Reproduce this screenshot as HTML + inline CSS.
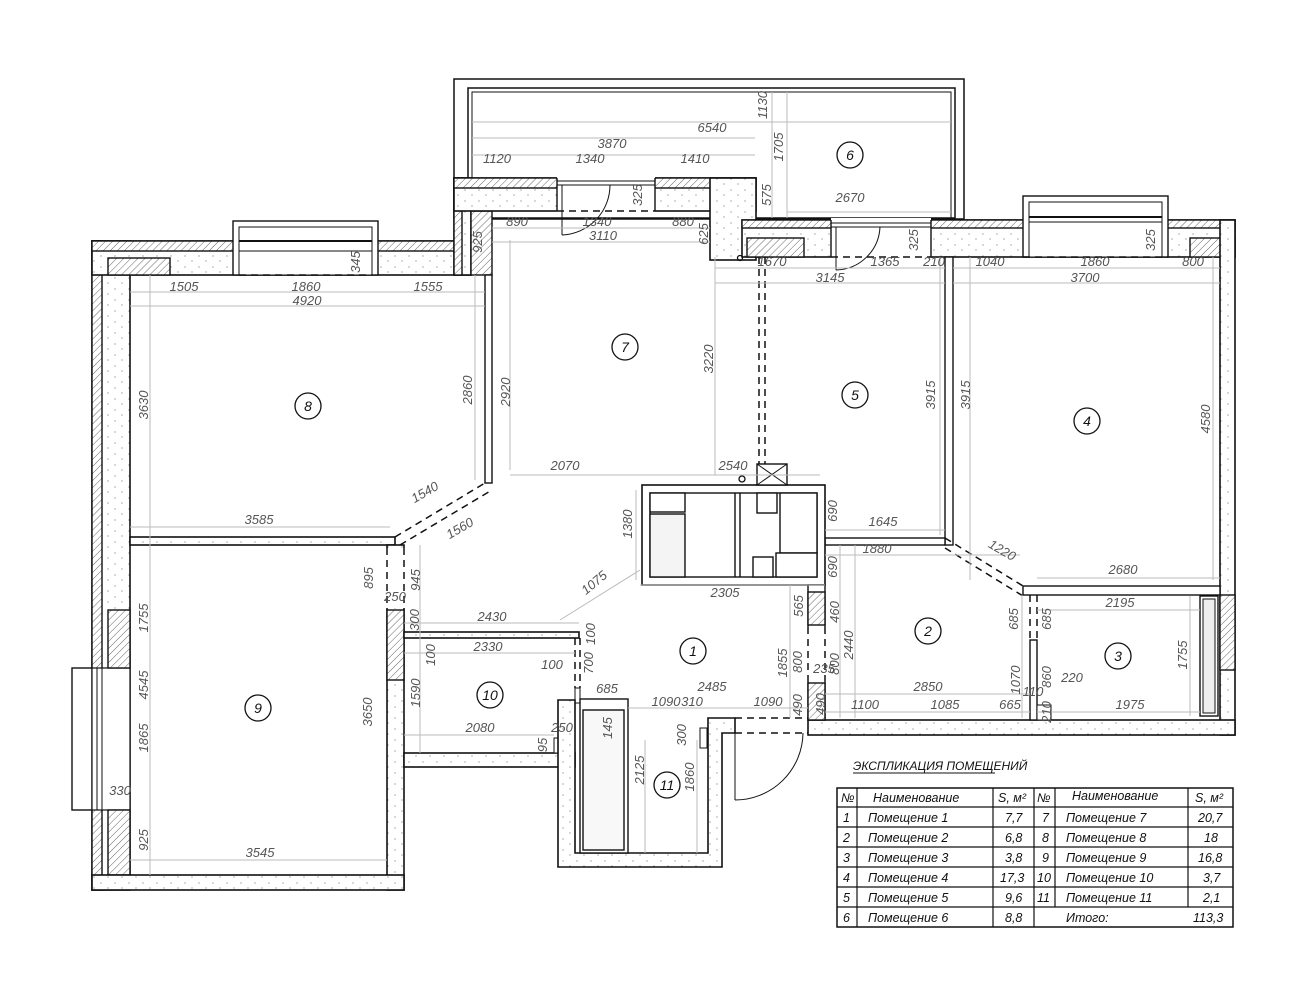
<!DOCTYPE html>
<html><head><meta charset="utf-8"><style>
html,body{margin:0;padding:0;background:#fff}
svg{display:block}
.d{font-family:"Liberation Sans",sans-serif;font-style:italic;font-size:13px;fill:#555}
.t{font-family:"Liberation Sans",sans-serif;font-style:italic;font-size:12.5px;fill:#111}
.n{font-family:"Liberation Sans",sans-serif;font-style:italic;font-size:14px;fill:#111;text-anchor:middle}
.w{fill:url(#dots);stroke:#111;stroke-width:1.6}
.h{fill:url(#hatch);stroke:#111;stroke-width:1.4}
.dim{stroke:#bbb;stroke-width:1;fill:none}
.ds{stroke:#111;stroke-width:1.5;stroke-dasharray:7,5;fill:none}
</style></head><body>
<svg width="1305" height="1000" viewBox="0 0 1305 1000" xmlns="http://www.w3.org/2000/svg">
<defs>
<pattern id="hatch" width="5" height="5" patternUnits="userSpaceOnUse" patternTransform="rotate(45)"><rect width="5" height="5" fill="#fff"/><line x1="0" y1="0" x2="0" y2="5" stroke="#666" stroke-width="1"/></pattern>
<pattern id="dots" width="14" height="11" patternUnits="userSpaceOnUse"><rect width="14" height="11" fill="#fff"/><circle cx="3" cy="3" r="0.6" fill="#777"/><circle cx="10" cy="8" r="0.6" fill="#777"/></pattern>
</defs>

<!-- balcony -->
<rect x="454" y="79" width="510" height="140" fill="none" stroke="#111" stroke-width="1.5"/>
<rect x="468" y="88" width="487" height="130" fill="none" stroke="#111" stroke-width="1.5"/>
<rect x="472" y="92" width="479" height="126" fill="none" stroke="#111" stroke-width="1"/>

<!-- left exterior wall -->
<rect class="w" x="92" y="241" width="38" height="649"/>
<rect class="h" x="92" y="241" width="10" height="649"/>
<rect x="72" y="668" width="20" height="142" fill="#fff" stroke="#111" stroke-width="1.4"/>
<rect x="92" y="668" width="38" height="142" fill="#fff" stroke="#111" stroke-width="1.2"/>
<line x1="97" y1="668" x2="97" y2="810" stroke="#111"/><line x1="102" y1="668" x2="102" y2="810" stroke="#111"/>
<rect class="h" x="108" y="610" width="22" height="58"/>
<rect class="h" x="108" y="810" width="22" height="65"/>
<!-- top wall room 8 -->
<rect class="w" x="92" y="241" width="379" height="34"/>
<rect class="h" x="92" y="241" width="379" height="10"/>
<rect class="h" x="108" y="258" width="62" height="17"/>
<rect x="233" y="221" width="145" height="54" fill="#fff" stroke="#111" stroke-width="1.4"/>
<rect x="239" y="227" width="133" height="48" fill="#fff" stroke="#111" stroke-width="1"/>
<line x1="239" y1="241" x2="372" y2="241" stroke="#111" stroke-width="2"/>
<line x1="239" y1="251" x2="372" y2="251" stroke="#111"/>
<line x1="239" y1="275" x2="372" y2="275" class="ds"/>
<!-- step wall -->
<rect class="w" x="454" y="178" width="17" height="97"/>
<rect class="h" x="454" y="178" width="8" height="97"/>
<rect class="h" x="471" y="211" width="21" height="64"/>
<!-- room 7 top wall -->
<rect class="w" x="454" y="178" width="302" height="33"/>
<rect class="h" x="454" y="178" width="302" height="10"/>
<rect x="557" y="176" width="98" height="36" fill="#fff" stroke="none"/>
<line x1="557" y1="178" x2="557" y2="211" stroke="#111" stroke-width="1.4"/>
<line x1="655" y1="178" x2="655" y2="211" stroke="#111" stroke-width="1.4"/>
<line x1="557" y1="181" x2="655" y2="181" stroke="#111"/><line x1="557" y1="185" x2="655" y2="185" stroke="#111"/>
<line x1="557" y1="211" x2="655" y2="211" class="ds"/>
<line x1="562" y1="185" x2="562" y2="235" stroke="#111"/><path d="M562 235 A50 50 0 0 0 610 185" fill="none" stroke="#111"/>
<!-- block -->
<rect class="w" x="710" y="178" width="46" height="82"/>
<rect class="w" x="742" y="220" width="493" height="37"/>
<rect class="h" x="742" y="220" width="493" height="8"/>
<rect class="h" x="747" y="238" width="57" height="19"/>
<rect class="h" x="1190" y="238" width="45" height="19"/>
<rect x="831" y="218" width="100" height="40" fill="#fff"/>
<line x1="831" y1="220" x2="831" y2="257" stroke="#111" stroke-width="1.4"/><line x1="931" y1="220" x2="931" y2="257" stroke="#111" stroke-width="1.4"/>
<line x1="831" y1="223" x2="931" y2="223" stroke="#111"/><line x1="831" y1="227" x2="931" y2="227" stroke="#111"/>
<line x1="831" y1="257" x2="931" y2="257" class="ds"/>
<line x1="836" y1="227" x2="836" y2="270" stroke="#111"/><path d="M836 270 A45 45 0 0 0 880 227" fill="none" stroke="#111"/>
<!-- window room 4 -->
<rect x="1023" y="196" width="145" height="61" fill="#fff" stroke="#111" stroke-width="1.4"/>
<rect x="1029" y="202" width="133" height="55" fill="#fff" stroke="#111" stroke-width="1"/>
<line x1="1029" y1="217" x2="1162" y2="217" stroke="#111" stroke-width="2"/>
<line x1="1029" y1="222" x2="1162" y2="222" stroke="#111"/>
<line x1="1023" y1="257" x2="1168" y2="257" class="ds"/>
<!-- right wall -->
<rect class="w" x="1220" y="220" width="15" height="515"/>
<rect class="h" x="1220" y="595" width="15" height="75"/>
<rect class="w" x="808" y="720" width="427" height="15"/>
<!-- partitions -->
<rect x="945" y="257" width="8" height="288" fill="#fff" stroke="#111" stroke-width="1.4"/>
<rect x="825" y="538" width="120" height="7" fill="#fff" stroke="#111" stroke-width="1.4"/>
<line x1="945" y1="538" x2="1023" y2="586" class="ds"/><line x1="945" y1="548" x2="1023" y2="596" class="ds"/>
<rect x="1023" y="586" width="197" height="9" fill="#fff" stroke="#111" stroke-width="1.4"/>
<rect x="1030" y="640" width="7" height="80" fill="#fff" stroke="#111" stroke-width="1.4"/>
<line x1="1030" y1="595" x2="1030" y2="640" class="ds"/><line x1="1037" y1="595" x2="1037" y2="640" class="ds"/>
<rect x="1037" y="705" width="14" height="15" fill="#fff" stroke="#111"/>
<rect x="1200" y="596" width="18" height="120" fill="#fff" stroke="#111" stroke-width="1.4"/>
<rect x="1203" y="599" width="12" height="114" fill="#eee" stroke="#111"/>
<!-- kitchen block -->
<rect x="642" y="485" width="183" height="100" fill="#fff" stroke="#111" stroke-width="1.6"/>
<rect x="650" y="493" width="167" height="84" fill="#fff" stroke="#111" stroke-width="1.4"/>
<rect x="650" y="493" width="35" height="19" fill="#fff" stroke="#111" stroke-width="1.4"/>
<rect x="650" y="514" width="35" height="63" fill="#f4f4f4" stroke="#111" stroke-width="1.4"/>
<line x1="735" y1="493" x2="735" y2="577" stroke="#111" stroke-width="1.4"/><line x1="740" y1="493" x2="740" y2="577" stroke="#111" stroke-width="1.4"/>
<rect x="757" y="493" width="20" height="20" fill="#fff" stroke="#111" stroke-width="1.4"/>
<rect x="780" y="493" width="37" height="60" fill="#fff" stroke="#111" stroke-width="1.4"/>
<rect x="753" y="557" width="20" height="20" fill="#fff" stroke="#111" stroke-width="1.4"/>
<rect x="776" y="553" width="41" height="24" fill="#fff" stroke="#111" stroke-width="1.4"/>
<rect x="757" y="464" width="30" height="21" fill="#fff" stroke="#111" stroke-width="1.4"/>
<line x1="757" y1="464" x2="787" y2="485" stroke="#111"/><line x1="787" y1="464" x2="757" y2="485" stroke="#111"/>
<circle cx="742" cy="479" r="3" fill="none" stroke="#111" stroke-width="1.3"/>
<circle cx="740" cy="258" r="2.5" fill="none" stroke="#111" stroke-width="1.3"/>
<line x1="759" y1="257" x2="759" y2="464" class="ds" stroke-width="1"/><line x1="765" y1="257" x2="765" y2="464" class="ds" stroke-width="1"/>
<!-- wall 1/2 -->
<rect x="808" y="585" width="17" height="135" fill="#fff" stroke="#111" stroke-width="1.4"/>
<rect class="h" x="808" y="592" width="17" height="33"/>
<rect class="h" x="808" y="683" width="17" height="37"/>
<rect x="806" y="627" width="21" height="54" fill="#fff"/>
<line x1="808" y1="627" x2="808" y2="681" class="ds"/><line x1="825" y1="627" x2="825" y2="681" class="ds"/>
<!-- room 8/7 wall -->
<rect x="485" y="275" width="7" height="208" fill="#fff" stroke="#111" stroke-width="1.4"/>
<rect x="130" y="537" width="265" height="8" class="w"/>
<line x1="395" y1="537" x2="485" y2="483" class="ds"/><line x1="400" y1="545" x2="492" y2="490" class="ds"/>
<!-- room 9 right wall -->
<rect class="w" x="387" y="545" width="17" height="345"/>
<rect class="h" x="387" y="610" width="17" height="70"/>
<rect x="385" y="548" width="21" height="60" fill="#fff"/>
<line x1="387" y1="548" x2="387" y2="608" class="ds"/><line x1="404" y1="548" x2="404" y2="608" class="ds"/>
<rect class="w" x="92" y="875" width="312" height="15"/>
<!-- room 10 -->
<rect class="w" x="404" y="632" width="175" height="6"/>
<rect x="575" y="688" width="5" height="15" fill="#fff" stroke="#111"/>
<line x1="575" y1="638" x2="575" y2="688" class="ds" stroke-width="1"/><line x1="580" y1="638" x2="580" y2="688" class="ds" stroke-width="1"/>
<rect class="w" x="404" y="753" width="171" height="14"/>
<rect x="554" y="738" width="21" height="15" fill="#fff" stroke="#111"/>
<!-- room 11 -->
<path class="w" d="M558 767 L558 700 L575 700 L575 853 L708 853 L708 718 L735 718 L735 733 L722 733 L722 867 L558 867 Z"/>
<rect x="580" y="699" width="48" height="154" fill="#fff" stroke="#111" stroke-width="1.4"/>
<rect x="583" y="710" width="41" height="140" fill="#f8f8f8" stroke="#111" stroke-width="1.4"/>
<line x1="628" y1="699" x2="628" y2="718" stroke="#111"/>
<rect x="700" y="728" width="7" height="20" fill="#fff" stroke="#111"/>
<line x1="735" y1="718" x2="808" y2="718" class="ds"/><line x1="735" y1="733" x2="808" y2="733" class="ds"/>
<line x1="735" y1="733" x2="735" y2="800" stroke="#111"/><path d="M735 800 A68 68 0 0 0 803 733" fill="none" stroke="#111"/>

<!-- dimension lines -->
<g class="dim">
<line x1="472" y1="122" x2="951" y2="122"/><line x1="472" y1="138" x2="755" y2="138"/><line x1="472" y1="155" x2="755" y2="155"/>
<line x1="772" y1="92" x2="772" y2="218"/><line x1="787" y1="92" x2="787" y2="218"/><line x1="787" y1="212" x2="951" y2="212"/>
<line x1="492" y1="228" x2="710" y2="228"/><line x1="492" y1="242" x2="710" y2="242"/>
<line x1="130" y1="292" x2="485" y2="292"/><line x1="130" y1="306" x2="485" y2="306"/>
<line x1="150" y1="275" x2="150" y2="875"/><line x1="475" y1="275" x2="475" y2="480"/><line x1="510" y1="240" x2="510" y2="470"/>
<line x1="130" y1="527" x2="390" y2="527"/><line x1="510" y1="475" x2="820" y2="475"/>
<line x1="715" y1="268" x2="945" y2="268"/><line x1="715" y1="283" x2="945" y2="283"/>
<line x1="953" y1="268" x2="1220" y2="268"/><line x1="953" y1="283" x2="1220" y2="283"/>
<line x1="715" y1="257" x2="715" y2="475"/><line x1="940" y1="257" x2="940" y2="535"/><line x1="970" y1="257" x2="970" y2="580"/><line x1="1213" y1="257" x2="1213" y2="580"/>
<line x1="825" y1="530" x2="945" y2="530"/><line x1="825" y1="555" x2="1020" y2="555"/><line x1="1037" y1="578" x2="1220" y2="578"/>
<line x1="130" y1="860" x2="387" y2="860"/><line x1="420" y1="545" x2="420" y2="753"/>
<line x1="404" y1="623" x2="579" y2="623"/><line x1="404" y1="653" x2="575" y2="653"/><line x1="404" y1="735" x2="554" y2="735"/>
<line x1="640" y1="585" x2="825" y2="585"/><line x1="636" y1="490" x2="636" y2="580"/>
<line x1="628" y1="708" x2="808" y2="708"/><line x1="790" y1="585" x2="790" y2="718"/>
<line x1="840" y1="545" x2="840" y2="718"/><line x1="855" y1="545" x2="855" y2="718"/>
<line x1="825" y1="712" x2="1030" y2="712"/><line x1="825" y1="694" x2="1030" y2="694"/>
<line x1="1037" y1="610" x2="1200" y2="610"/><line x1="1037" y1="712" x2="1200" y2="712"/>
<line x1="1190" y1="596" x2="1190" y2="716"/><line x1="1022" y1="595" x2="1022" y2="718"/>
<line x1="645" y1="740" x2="645" y2="853"/><line x1="697" y1="740" x2="697" y2="853"/>
<line x1="560" y1="620" x2="640" y2="570"/>
</g>

<g class="d" text-anchor="middle">
<text x="712" y="132">6540</text><text x="612" y="148">3870</text>
<text x="497" y="163">1120</text><text x="590" y="163">1340</text><text x="695" y="163">1410</text>
<text transform="translate(767,105) rotate(-90)">1130</text><text transform="translate(783,147) rotate(-90)">1705</text>
<text transform="translate(771,195) rotate(-90)">575</text><text x="850" y="202">2670</text>
<text x="517" y="226">890</text><text x="597" y="226">1340</text><text x="683" y="226">880</text>
<text transform="translate(642,195) rotate(-90)">325</text><text x="603" y="240">3110</text>
<text transform="translate(482,242) rotate(-90)">925</text><text transform="translate(708,234) rotate(-90)">625</text>
<text x="772" y="266">1670</text><text x="830" y="282">3145</text><text x="885" y="266">1365</text>
<text transform="translate(918,240) rotate(-90)">325</text><text x="934" y="266">210</text>
<text x="990" y="266">1040</text><text x="1095" y="266">1860</text><text x="1193" y="266">800</text>
<text x="1085" y="282">3700</text><text transform="translate(1155,240) rotate(-90)">325</text>
<text transform="translate(360,262) rotate(-90)">345</text>
<text x="184" y="291">1505</text><text x="306" y="291">1860</text><text x="428" y="291">1555</text><text x="307" y="305">4920</text>
<text transform="translate(148,405) rotate(-90)">3630</text>
<text transform="translate(472,390) rotate(-90)">2860</text><text transform="translate(510,392) rotate(-90)">2920</text>
<text transform="translate(427,496) rotate(-30)">1540</text><text transform="translate(462,532) rotate(-30)">1560</text>
<text x="259" y="524">3585</text>
<text transform="translate(713,359) rotate(-90)">3220</text>
<text x="565" y="470">2070</text><text x="733" y="470">2540</text>
<text transform="translate(935,395) rotate(-90)">3915</text><text transform="translate(970,395) rotate(-90)">3915</text>
<text x="883" y="526">1645</text><text transform="translate(837,511) rotate(-90)">690</text>
<text x="877" y="553">1880</text><text transform="translate(837,567) rotate(-90)">690</text>
<text transform="translate(1210,419) rotate(-90)">4580</text>
<text transform="translate(1000,554) rotate(30)">1220</text><text x="1123" y="574">2680</text>
<text transform="translate(148,618) rotate(-90)">1755</text><text transform="translate(373,578) rotate(-90)">895</text>
<text transform="translate(420,580) rotate(-90)">945</text><text x="395" y="601">250</text>
<text transform="translate(148,685) rotate(-90)">4545</text><text transform="translate(372,712) rotate(-90)">3650</text>
<text transform="translate(148,738) rotate(-90)">1865</text><text x="120" y="795">330</text>
<text transform="translate(148,840) rotate(-90)">925</text><text x="260" y="857">3545</text>
<text x="492" y="621">2430</text><text transform="translate(419,620) rotate(-90)">300</text>
<text x="488" y="651">2330</text><text transform="translate(435,655) rotate(-90)">100</text>
<text x="552" y="669">100</text><text transform="translate(595,634) rotate(-90)">100</text>
<text transform="translate(593,663) rotate(-90)">700</text><text transform="translate(420,693) rotate(-90)">1590</text>
<text x="480" y="732">2080</text><text x="562" y="732">250</text><text transform="translate(547,745) rotate(-90)">95</text>
<text transform="translate(632,524) rotate(-90)">1380</text><text transform="translate(597,586) rotate(-40)">1075</text>
<text x="725" y="597">2305</text><text transform="translate(803,606) rotate(-90)">565</text>
<text transform="translate(787,663) rotate(-90)">1855</text><text transform="translate(802,662) rotate(-90)">800</text>
<text x="824" y="673">235</text><text x="607" y="693">685</text><text x="712" y="691">2485</text>
<text x="666" y="706">1090</text><text x="692" y="706">310</text><text x="768" y="706">1090</text>
<text transform="translate(802,705) rotate(-90)">490</text><text transform="translate(686,735) rotate(-90)">300</text>
<text transform="translate(612,728) rotate(-90)">145</text><text transform="translate(644,770) rotate(-90)">2125</text>
<text transform="translate(694,777) rotate(-90)">1860</text><text transform="translate(825,704) rotate(-90)">490</text>
<text transform="translate(839,612) rotate(-90)">460</text><text transform="translate(853,645) rotate(-90)">2440</text>
<text transform="translate(839,664) rotate(-90)">800</text>
<text transform="translate(1018,619) rotate(-90)">685</text><text transform="translate(1051,619) rotate(-90)">685</text>
<text x="928" y="691">2850</text><text transform="translate(1020,680) rotate(-90)">1070</text>
<text transform="translate(1051,677) rotate(-90)">860</text><text x="1033" y="696">110</text><text x="1072" y="682">220</text>
<text x="865" y="709">1100</text><text x="945" y="709">1085</text><text x="1010" y="709">665</text>
<text transform="translate(1051,712) rotate(-90)">210</text>
<text x="1120" y="607">2195</text><text transform="translate(1187,655) rotate(-90)">1755</text><text x="1130" y="709">1975</text>
</g>

<g fill="#fff" stroke="#111" stroke-width="1.3">
<circle cx="850" cy="155" r="13"/><circle cx="625" cy="347" r="13"/><circle cx="308" cy="406" r="13"/>
<circle cx="855" cy="395" r="13"/><circle cx="1087" cy="421" r="13"/><circle cx="258" cy="708" r="13"/>
<circle cx="490" cy="695" r="13"/><circle cx="693" cy="651" r="13"/><circle cx="928" cy="631" r="13"/>
<circle cx="1118" cy="656" r="13"/><circle cx="667" cy="785" r="13"/>
</g>
<g class="n">
<text x="850" y="160">6</text><text x="625" y="352">7</text><text x="308" y="411">8</text>
<text x="855" y="400">5</text><text x="1087" y="426">4</text><text x="258" y="713">9</text>
<text x="490" y="700">10</text><text x="693" y="656">1</text><text x="928" y="636">2</text>
<text x="1118" y="661">3</text><text x="667" y="790">11</text>
</g>

<text x="853" y="770" class="t" style="font-size:12px">ЭКСПЛИКАЦИЯ ПОМЕЩЕНИЙ</text>
<line x1="853" y1="773" x2="995" y2="773" stroke="#111"/>
<rect x="837" y="788" width="396" height="139" fill="#fff" stroke="#111" stroke-width="1.5"/>
<g stroke="#111" stroke-width="1.2">
<line x1="837" y1="807" x2="1233" y2="807"/><line x1="837" y1="827" x2="1233" y2="827"/><line x1="837" y1="847" x2="1233" y2="847"/>
<line x1="837" y1="867" x2="1233" y2="867"/><line x1="837" y1="887" x2="1233" y2="887"/><line x1="837" y1="907" x2="1233" y2="907"/>
<line x1="857" y1="788" x2="857" y2="927"/><line x1="993" y1="788" x2="993" y2="927"/><line x1="1034" y1="788" x2="1034" y2="927"/>
<line x1="1055" y1="788" x2="1055" y2="907"/><line x1="1188" y1="788" x2="1188" y2="907"/>
</g>
<g class="t">
<text x="841" y="802">№</text><text x="873" y="802">Наименование</text><text x="998" y="802">S, м²</text>
<text x="1037" y="802">№</text><text x="1072" y="800">Наименование</text><text x="1195" y="802">S, м²</text>
<text x="843" y="822">1</text><text x="868" y="822">Помещение 1</text><text x="1005" y="822">7,7</text><text x="1042" y="822">7</text><text x="1066" y="822">Помещение 7</text><text x="1198" y="822">20,7</text>
<text x="843" y="842">2</text><text x="868" y="842">Помещение 2</text><text x="1005" y="842">6,8</text><text x="1042" y="842">8</text><text x="1066" y="842">Помещение 8</text><text x="1204" y="842">18</text>
<text x="843" y="862">3</text><text x="868" y="862">Помещение 3</text><text x="1005" y="862">3,8</text><text x="1042" y="862">9</text><text x="1066" y="862">Помещение 9</text><text x="1198" y="862">16,8</text>
<text x="843" y="882">4</text><text x="868" y="882">Помещение 4</text><text x="1000" y="882">17,3</text><text x="1037" y="882">10</text><text x="1066" y="882">Помещение 10</text><text x="1203" y="882">3,7</text>
<text x="843" y="902">5</text><text x="868" y="902">Помещение 5</text><text x="1005" y="902">9,6</text><text x="1037" y="902">11</text><text x="1066" y="902">Помещение 11</text><text x="1203" y="902">2,1</text>
<text x="843" y="922">6</text><text x="868" y="922">Помещение 6</text><text x="1005" y="922">8,8</text><text x="1066" y="922">Итого:</text><text x="1193" y="922">113,3</text>
</g>
</svg>
</body></html>
